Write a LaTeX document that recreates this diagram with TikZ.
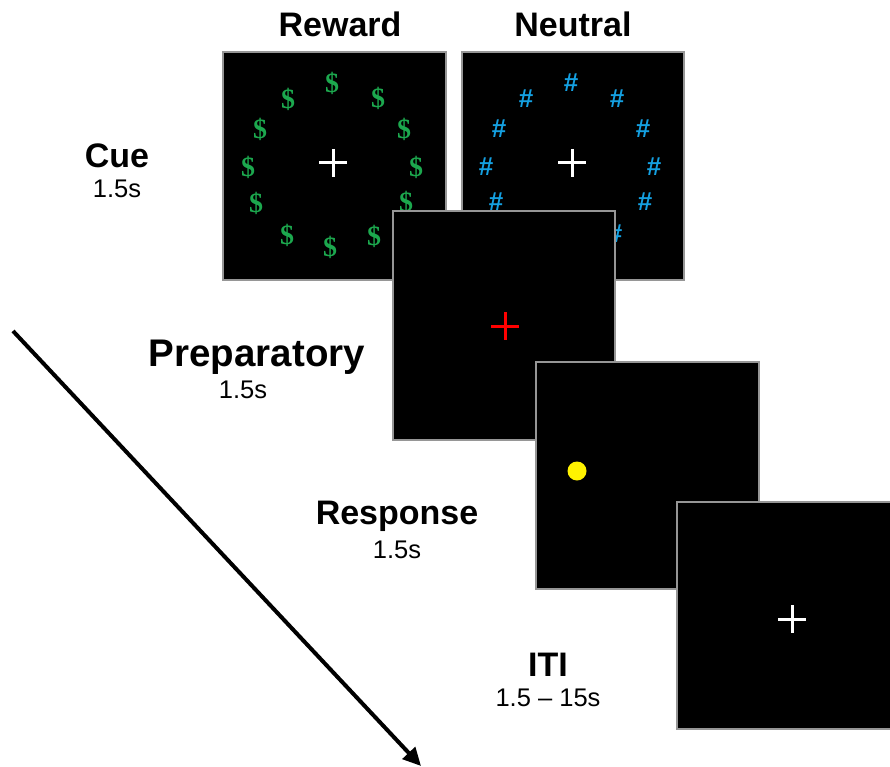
\documentclass[tikz,border=0pt]{standalone}
\usepackage{fontspec}
\setmainfont{Liberation Sans}
\newfontfamily\dollarfont{Liberation Serif Bold}
\usetikzlibrary{arrows.meta,calc}
\definecolor{dgreen}{RGB}{28,168,78}
\definecolor{hblue}{RGB}{20,160,225}
\definecolor{frame}{RGB}{150,150,150}
\tikzset{
  screen/.style={fill=black, draw=frame, line width=1.5pt},
  title/.style={font=\fontsize{34}{40}\selectfont\bfseries, inner sep=0pt},
  dur/.style={font=\fontsize{25.5}{30}\selectfont, inner sep=0pt},
  dollar/.style={text=dgreen, font=\dollarfont\fontsize{28}{30}\selectfont, inner sep=0pt},
  hash/.style={text=hblue, font=\fontsize{26}{30}\selectfont\bfseries, inner sep=0pt},
  fixcross/.style={line width=3pt},
}
\begin{document}
\begin{tikzpicture}[x=1pt, y=-1pt]
\useasboundingbox (0,0) rectangle (890,767);

% titles
\node[title] (trew) at (340,24) {Reward};
\node[title] (tneu) at (573,24) {Neutral};

% Reward screen
\path[screen] (223,52) rectangle (446,280);
\coordinate (rc) at (333,163);
\draw[fixcross, white] ($(rc)+(-14,0)$) -- ($(rc)+(14,0)$) ($(rc)+(0,-14)$) -- ($(rc)+(0,14)$);
\foreach \x/\y [count=\i] in {332/83, 288/99, 378/98, 260/129, 404/129, 248/167, 416/167, 256/203, 406/202, 287/235, 374/236, 330/247}
  \node[dollar] (d\i) at (\x,\y) {\$};

% Neutral screen
\path[screen] (462,52) rectangle (684,280);
\coordinate (nc) at (572,163);
\draw[fixcross, white] ($(nc)+(-14,0)$) -- ($(nc)+(14,0)$) ($(nc)+(0,-14)$) -- ($(nc)+(0,14)$);
\foreach \x/\y [count=\i] in {571/83, 526/99, 617/99, 499/129, 643/129, 486/167, 654/167, 496/202, 645/202, 527/235, 615/234, 571/247}
  \node[hash] (h\i) at (\x,\y) {\#};

% Cue label
\node[title] (lcue) at (117,156) {Cue};
\node[dur] (dcue) at (117,189) {1.5s};

% Preparatory screen
\path[screen] (393,211) rectangle (615,440);
\coordinate (pc) at (505,326);
\draw[fixcross, red] ($(pc)+(-14,0)$) -- ($(pc)+(14,0)$) ($(pc)+(0,-14)$) -- ($(pc)+(0,14)$);
\node[title, font=\fontsize{38.5}{42}\selectfont\bfseries] (lprep) at (257,357) {Preparatory};
\node[dur] (dprep) at (243,390) {1.5s};

% Response screen
\path[screen] (536,362) rectangle (759,589);
\node[circle, fill=yellow, inner sep=0pt, minimum size=19pt] (dot) at (577,471) {};
\node[title] (lresp) at (397,516) {Response};
\node[dur] (dresp) at (397,550) {1.5s};

% ITI screen
\path[screen] (677,502) rectangle (892,729);
\coordinate (ic) at (792,619);
\draw[fixcross, white] ($(ic)+(-14,0)$) -- ($(ic)+(14,0)$) ($(ic)+(0,-14)$) -- ($(ic)+(0,14)$);
\node[title] (liti) at (548,665) {ITI};
\node[dur] (diti) at (548,698) {1.5 – 15s};

% time arrow
\coordinate (a0) at (13,331);
\coordinate (a1) at (421,766);
\draw[line width=4pt, -{Triangle[length=18pt, width=17pt]}] (a0) -- (a1);
\end{tikzpicture}
\end{document}
